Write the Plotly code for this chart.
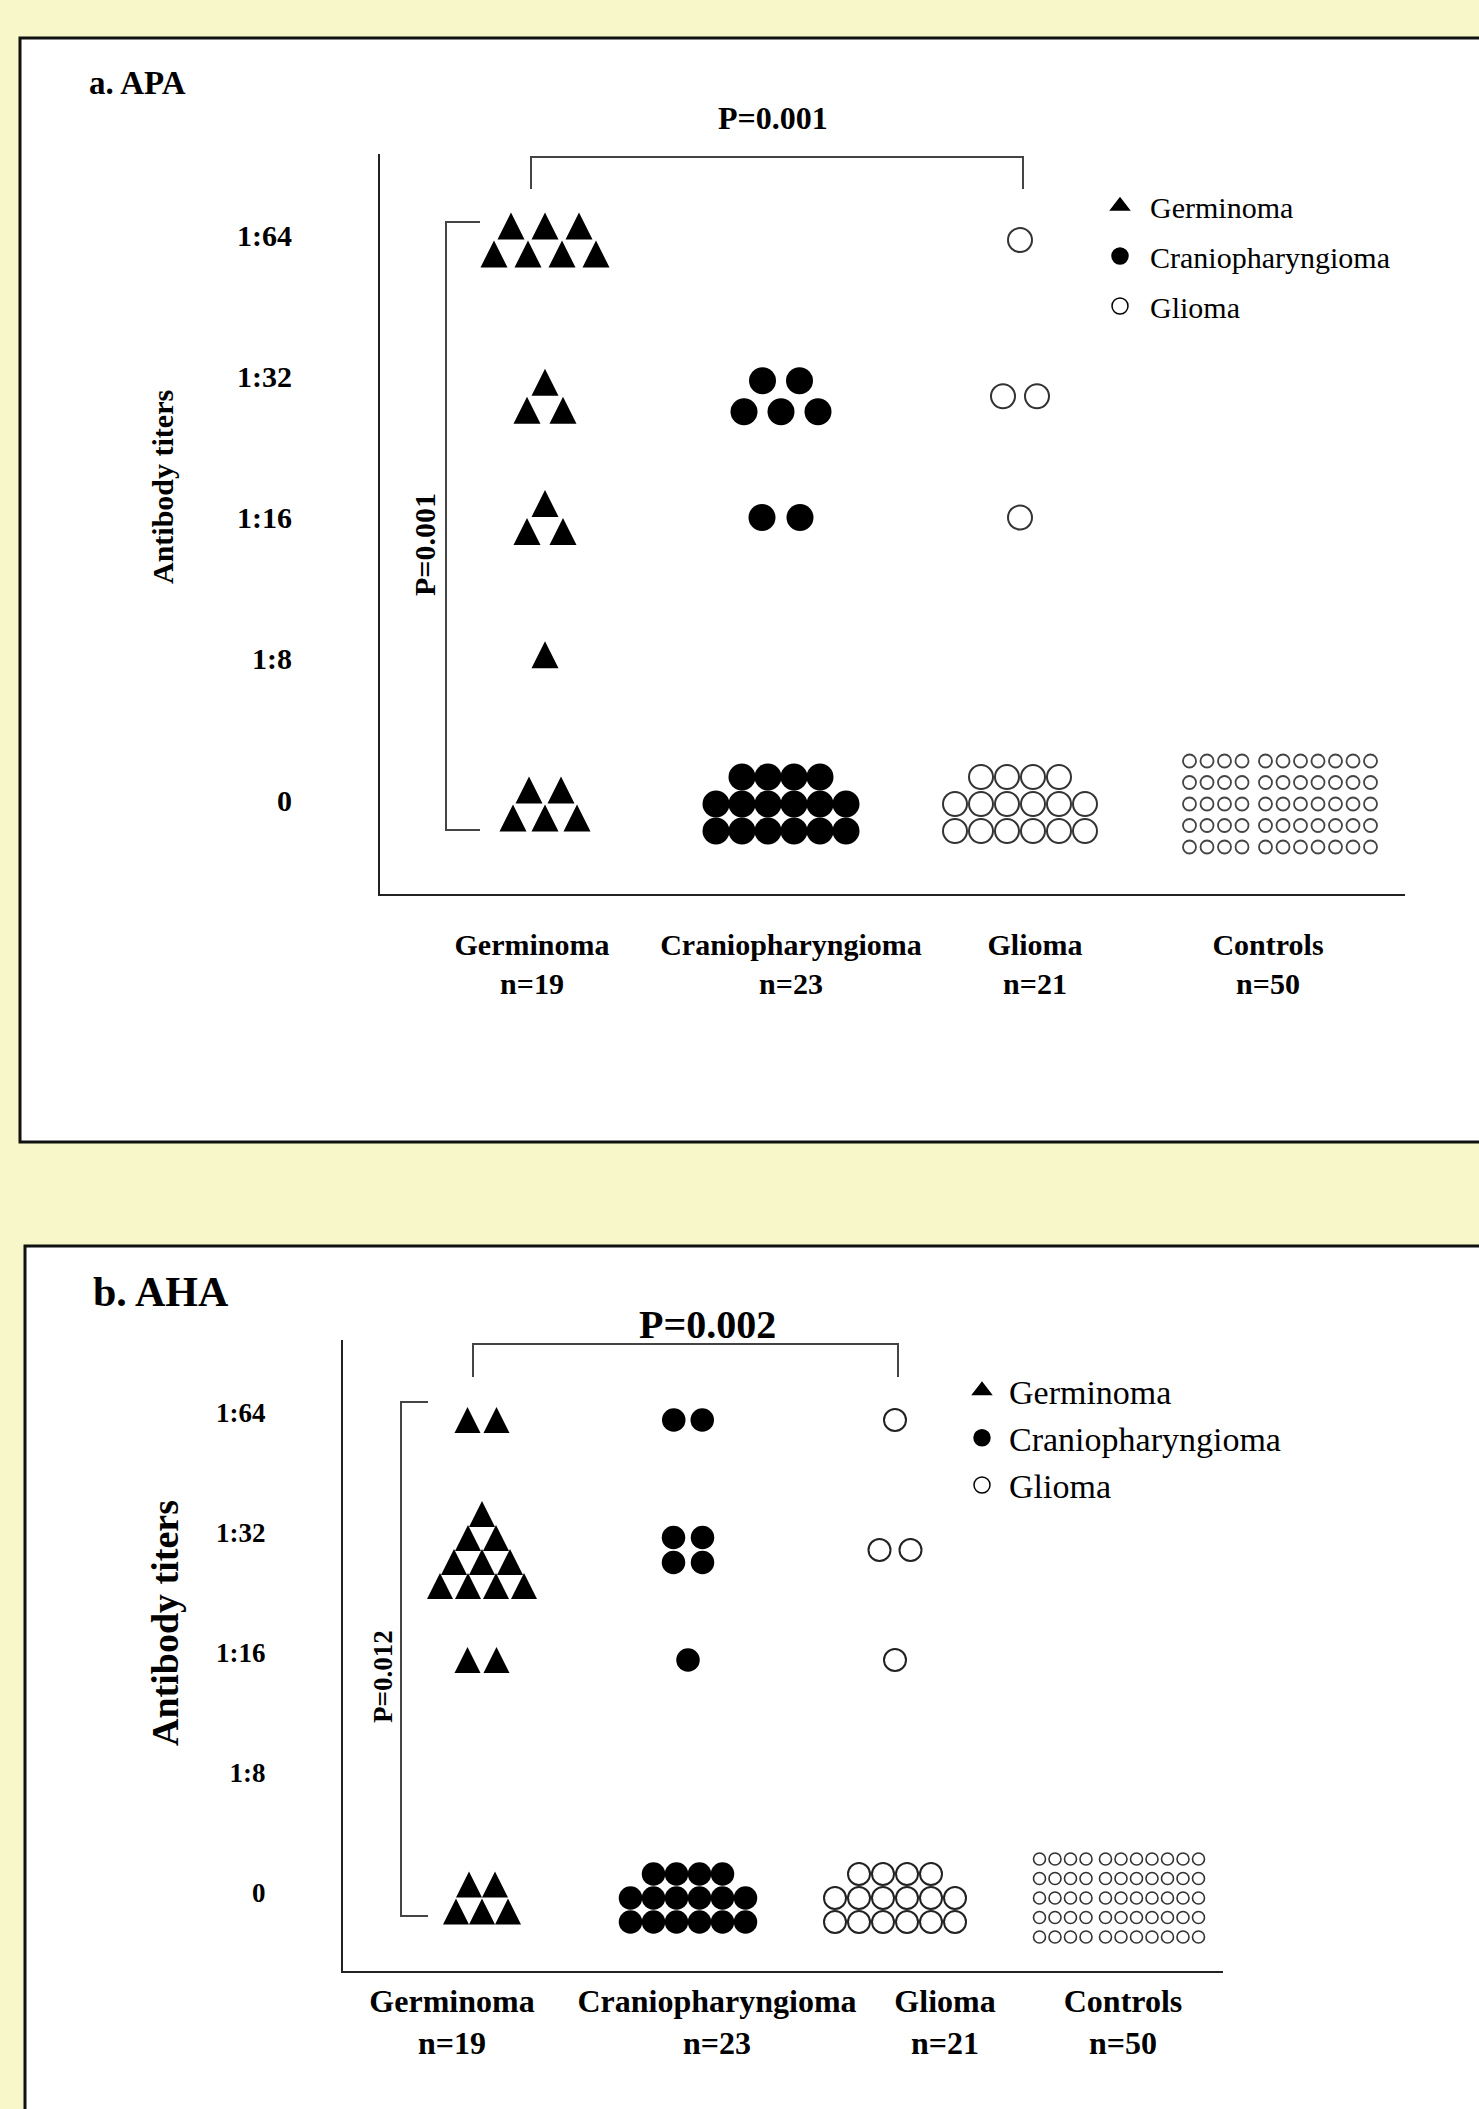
import plotly.graph_objects as go

W, H = 1479, 2109

# ---------------- data ----------------
titers = ["0", "1:8", "1:16", "1:32", "1:64"]
groups = ["Germinoma", "Craniopharyngioma", "Glioma", "Controls"]
group_n = [19, 23, 21, 50]

# number of patients drawn at each titer level (0, 1:8, 1:16, 1:32, 1:64)
apa_germinoma = [5, 1, 3, 3, 7]
apa_craniopharyngioma = [16, 0, 2, 5, 0]
apa_glioma = [16, 0, 1, 2, 1]
apa_controls = [55, 0, 0, 0, 0]

aha_germinoma = [5, 0, 2, 10, 2]
aha_craniopharyngioma = [16, 0, 1, 4, 2]
aha_glioma = [16, 0, 1, 2, 1]
aha_controls = [55, 0, 0, 0, 0]

apa_p_between = "P=0.001"   # Germinoma vs Glioma
apa_p_within = "P=0.001"    # Germinoma 1:64 vs 0
aha_p_between = "P=0.002"
aha_p_within = "P=0.012"

legend_groups = ["Germinoma", "Craniopharyngioma", "Glioma"]

# ---------------- layout / style (pixels) ----------------
FONT = "Liberation Serif"
BG = "#F7F7C9"

PANELS = [
    dict(
        key="a", title="a. APA",
        counts=[apa_germinoma, apa_craniopharyngioma, apa_glioma, apa_controls],
        p_between=apa_p_between, p_within=apa_p_within,
        box=(20, 38, 1520, 1142),
        plot=(380, 154, 1405, 894),
        cat0=545, catstep=245, lev0=800, levstep=141.25,
        cat_px=[545, 781, 1020, 1280],       # cluster column centres
        label_dx=[-13, 10, 15, -12],         # label offset from column centre
        level_nudge=[4, -4, 0, 20, 5],       # cluster vertical nudge per level (down +)
        title_pos=(87, 83), title_size=33,
        tick_size=30, tick_standoff=80, cat_size=30, cat_standoff=23,
        ytitle_pos=(163, 487), ytitle_size=30,
        ptop_pos=(773, 118), ptop_size=32, btop=157, btick=32, bx_off=(-14, 3),
        pside_pos=(424, 545), pside_size=30,
        bleft_x=446, bleft_tick=34, bleft_up=13, bleft_down=30,
        legend_pos=(1090, 180), legend_size=30, legend_gap=8, legend_iw=50,
        styles={
            "Germinoma": dict(symbol="arrow-up", size=27, color="black", lw=0,
                              dx=[32, 34, 36, 36, 34], dy=28, cap=[3, 1, 2, 2, 4]),
            "Craniopharyngioma": dict(symbol="circle", size=27, color="black", lw=0,
                                      dx=[26, 36, 38, 37, 36], dy=[27, 31, 31, 31, 31], cap=[6, 6, 3, 3, 3]),
            "Glioma": dict(symbol="circle-open", size=24, color="#333333", lw=2,
                           dx=[26, 34, 34, 34, 34], dy=27, cap=6),
            "Controls": dict(symbol="circle-open", size=13, color="#444444", lw=1.8,
                             dx=17.5, dy=21.5, cap=11, split=4, gap=6),
        },
    ),
    dict(
        key="b", title="b. AHA",
        counts=[aha_germinoma, aha_craniopharyngioma, aha_glioma, aha_controls],
        p_between=aha_p_between, p_within=aha_p_within,
        box=(25, 1246, 1520, 2140),
        plot=(343, 1340, 1223, 1971),
        cat0=482, catstep=210, lev0=1893, levstep=120,
        cat_px=[482, 688, 895, 1119],
        label_dx=[-30, 29, 50, 4],
        level_nudge=[5, 0, 7, 17, 7],
        title_pos=(91, 1292), title_size=42,
        tick_size=27, tick_standoff=70, cat_size=32, cat_standoff=1,
        ytitle_pos=(165, 1623), ytitle_size=38,
        ptop_pos=(707, 1324), ptop_size=40, btop=1344, btick=33, bx_off=(-9, 3),
        pside_pos=(383, 1677), pside_size=27,
        bleft_x=401, bleft_tick=27, bleft_up=11, bleft_down=23,
        legend_pos=(955, 1362), legend_size=34, legend_gap=0, legend_iw=44,
        styles={
            "Germinoma": dict(symbol="arrow-up", size=26, color="black", lw=0,
                              dx=[26, 29, 29, 28, 29], dy=[27, 24, 24, 24, 24],
                              cap=[3, 1, 2, "pyramid", 2]),
            "Craniopharyngioma": dict(symbol="circle", size=23.5, color="black", lw=0,
                                      dx=[23, 28, 28, 29, 28.5], dy=[24, 25, 25, 25, 25], cap=[6, 6, 2, 2, 2]),
            "Glioma": dict(symbol="circle-open", size=22, color="#222222", lw=2,
                           dx=[24, 31, 31, 31, 31], dy=24, cap=6),
            "Controls": dict(symbol="circle-open", size=12, color="#333333", lw=1.6,
                             dx=15.5, dy=19.5, cap=11, split=4, gap=4),
        },
    ),
]


def val(v, i):
    return v[i] if isinstance(v, (list, tuple)) else v


def rows_for(n, cap):
    """Row sizes, top row first."""
    if n <= 0:
        return []
    if cap == "pyramid":
        rows, k, s = [], 1, 0
        while s < n:
            m = min(k, n - s)
            rows.append(m)
            s += m
            k += 1
        return rows
    full, rem = divmod(n, cap)
    return ([rem] if rem else []) + [cap] * full


def cluster(n, cap, dx, dy, split=None, gap=0.0):
    """Pixel offsets (x right, y down) of n markers packed around a centre."""
    rows = rows_for(n, cap)
    pts = []
    nr = len(rows)
    for i, m in enumerate(rows):
        oy = (i - (nr - 1) / 2) * dy
        xs = [j * dx + (gap if (split is not None and j >= split) else 0) for j in range(m)]
        c = (xs[0] + xs[-1]) / 2
        pts += [(x - c, oy) for x in xs]
    return pts


fig = go.Figure()
shapes, annotations = [], []
layout_axes = {}

for pi, P in enumerate(PANELS):
    sfx = "" if pi == 0 else str(pi + 1)
    xa, ya = "x" + sfx, "y" + sfx
    L, T, R, B = P["plot"]
    c0, cs, l0, ls = P["cat0"], P["catstep"], P["lev0"], P["levstep"]

    def dxp(px):
        return (px - c0) / cs

    def dyp(px):
        return (l0 - px) / ls

    xrange = [dxp(L), dxp(R)]
    yrange = [dyp(B), dyp(T)]
    col_x = [dxp(p) for p in P["cat_px"]]

    # white framed panel
    bl, bt, br, bb = P["box"]
    shapes.append(dict(type="rect", xref="paper", yref="paper", layer="below",
                       x0=bl / W, x1=br / W, y0=1 - bb / H, y1=1 - bt / H,
                       fillcolor="white", line=dict(color="#111111", width=3)))

    # markers
    for gi, g in enumerate(groups):
        st = P["styles"][g]
        xs, ys = [], []
        for lvl, n in enumerate(P["counts"][gi]):
            pts = cluster(n, val(st["cap"], lvl), val(st["dx"], lvl), val(st["dy"], lvl),
                          st.get("split"), st.get("gap", 0))
            for ox, oy in pts:
                oy += P["level_nudge"][lvl]
                if st["symbol"] == "arrow-up":
                    oy -= st["size"] / 2.0  # arrow symbol is anchored at its apex
                xs.append(col_x[gi] + ox / cs)
                ys.append(lvl - oy / ls)
        fig.add_trace(go.Scatter(
            x=xs, y=ys, mode="markers", name=g, showlegend=False,
            xaxis=xa, yaxis=ya, hoverinfo="skip",
            marker=dict(symbol=st["symbol"], size=st["size"], color=st["color"],
                        line=dict(width=st["lw"], color=st["color"]))))

    # legend entries
    leg_id = "legend" if pi == 0 else "legend" + str(pi + 1)
    leg_sym = {"Germinoma": "triangle-up", "Craniopharyngioma": "circle", "Glioma": "circle-open"}
    for li, g in enumerate(legend_groups):
        fig.add_trace(go.Scatter(
            x=[None], y=[None], mode="markers", name=g, legend=leg_id,
            legendgroup=P["key"] + g, xaxis=xa, yaxis=ya,
            marker=dict(symbol=leg_sym[g], size=16, color="black",
                        line=dict(width=1.5, color="black"))))

    # axes
    xaxis = dict(domain=[L / W, R / W], range=xrange, anchor=ya,
                 showline=True, linecolor="#222222", linewidth=2,
                 showgrid=False, zeroline=False, ticks="",
                 tickmode="array",
                 tickvals=[col_x[i] + P["label_dx"][i] / cs for i in range(len(groups))],
                 ticktext=[f"{g}<br>n={n}" for g, n in zip(groups, group_n)],
                 tickfont=dict(family=FONT, size=P["cat_size"], color="black", weight="bold"),
                 ticklabelstandoff=P["cat_standoff"], fixedrange=True)
    yaxis = dict(domain=[1 - B / H, 1 - T / H], range=yrange, anchor=xa,
                 showline=True, linecolor="#222222", linewidth=2,
                 showgrid=False, zeroline=False, ticks="",
                 tickmode="array", tickvals=list(range(len(titers))), ticktext=titers,
                 tickfont=dict(family=FONT, size=P["tick_size"], color="black", weight="bold"),
                 ticklabelstandoff=P["tick_standoff"], fixedrange=True)
    layout_axes["xaxis" + sfx] = xaxis
    layout_axes["yaxis" + sfx] = yaxis

    # bracket Germinoma -> Glioma over the top
    yt = dyp(P["btop"])
    yb = dyp(P["btop"] + P["btick"])
    x0 = col_x[0] + P["bx_off"][0] / cs
    x1 = col_x[2] + P["bx_off"][1] / cs
    shapes.append(dict(type="path", xref=xa, yref=ya,
                       path=f"M {x0},{yb} L {x0},{yt} L {x1},{yt} L {x1},{yb}",
                       line=dict(color="#444444", width=2)))
    annotations.append(dict(xref="paper", yref="paper",
                            x=P["ptop_pos"][0] / W, y=1 - P["ptop_pos"][1] / H,
                            text=P["p_between"], showarrow=False,
                            xanchor="center", yanchor="middle",
                            font=dict(family=FONT, size=P["ptop_size"], color="black", weight="bold")))

    # bracket 1:64 -> 0 on the left
    xl = dxp(P["bleft_x"])
    xt = dxp(P["bleft_x"] + P["bleft_tick"])
    y_hi = len(titers) - 1 + P["bleft_up"] / ls
    y_lo = 0 - P["bleft_down"] / ls
    shapes.append(dict(type="path", xref=xa, yref=ya,
                       path=f"M {xt},{y_hi} L {xl},{y_hi} L {xl},{y_lo} L {xt},{y_lo}",
                       line=dict(color="#444444", width=2)))
    annotations.append(dict(xref=xa, yref=ya, x=dxp(P["pside_pos"][0]), y=dyp(P["pside_pos"][1]),
                            text=P["p_within"], showarrow=False, textangle=-90,
                            xanchor="center", yanchor="middle",
                            font=dict(family=FONT, size=P["pside_size"], color="black", weight="bold")))

    # panel title and y title
    annotations.append(dict(xref="paper", yref="paper", x=P["title_pos"][0] / W, y=1 - P["title_pos"][1] / H,
                            text=P["title"], showarrow=False, xanchor="left", yanchor="middle",
                            font=dict(family=FONT, size=P["title_size"], color="black", weight="bold")))
    annotations.append(dict(xref="paper", yref="paper", x=P["ytitle_pos"][0] / W, y=1 - P["ytitle_pos"][1] / H,
                            text="Antibody titers", showarrow=False, textangle=-90,
                            xanchor="center", yanchor="middle",
                            font=dict(family=FONT, size=P["ytitle_size"], color="black", weight="bold")))

    layout_axes[leg_id] = dict(
        x=P["legend_pos"][0] / W, y=1 - P["legend_pos"][1] / H,
        xanchor="left", yanchor="top", bgcolor="rgba(0,0,0,0)",
        font=dict(family=FONT, size=P["legend_size"], color="black"),
        itemwidth=P["legend_iw"],
        tracegroupgap=P["legend_gap"], itemclick=False, itemdoubleclick=False)

fig.update_layout(
    width=W, height=H, margin=dict(l=0, r=0, t=0, b=0),
    paper_bgcolor=BG, plot_bgcolor="rgba(0,0,0,0)",
    font=dict(family=FONT, color="black"),
    shapes=shapes, annotations=annotations,
    showlegend=True,
    **layout_axes,
)

fig.write_html(
    "out.html",
    config={"displayModeBar": False},
    post_script=f"document.body.style.margin='0';document.body.style.backgroundColor='{BG}';",
)
